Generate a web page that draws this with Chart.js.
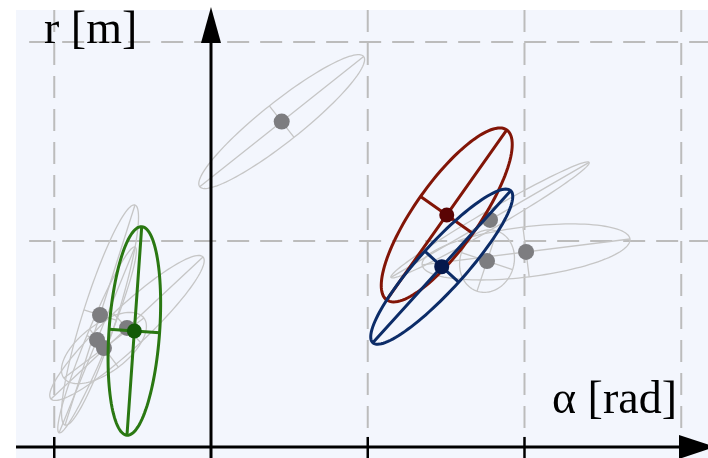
<!DOCTYPE html>
<html>
<head>
<meta charset="utf-8">
<script src="https://cdn.jsdelivr.net/npm/chart.js@4/dist/chart.umd.min.js"></script>
<style>
  html, body { margin: 0; padding: 0; background: #fff; }
  #wrap { width: 708px; height: 458px; }
</style>
</head>
<body>
<div id="wrap"><canvas id="ellipse-chart" width="708" height="458"></canvas></div>
<script>
// hypotheses (gray) - centre + semi axes as vectors, in [rad] / [m]
var grayCx    = [0.451, -0.536, -0.708, -0.727, -0.683, 1.780, 2.010, 1.761];
var grayCy    = [1.600,  0.563,  0.628,  0.503,  0.462, 1.106, 0.945, 0.899];
var grayMajDx = [0.523,  0.485,  0.223,  0.242,  0.255, 0.632, 0.663, 0.064];
var grayMajDy = [0.327,  0.357,  0.553,  0.467,  0.151, 0.289, 0.065, 0.151];
var grayMinDx = [0.079,  0.087,  0.103,  0.065,  0.092, 0.029, 0.020, 0.163];
var grayMinDy = [-0.079, -0.073, -0.026, -0.021, -0.096, -0.039, -0.125, -0.043];

// tracked estimates: green, red, blue
var trackNames = ['green', 'red', 'blue'];
var trackCx    = [-0.489, 1.504, 1.472];
var trackCy    = [0.548, 1.131, 0.871];
var trackMajDx = [0.047, 0.383, 0.440];
var trackMajDy = [0.524, 0.427, 0.382];
var trackMinDx = [0.161, 0.167, 0.108];
var trackMinDy = [-0.009, -0.093, -0.078];

// grid / ticks
var gridX = [-1, 1, 2, 3];
var gridY = [1, 2];
var tickX = [-1, 1, 2];

var lineColors = ['#2a7812', '#821507', '#0c2c68'];
var dotColors  = ['#145a08', '#5a0404', '#05184c'];

function ellipsePath(ctx, sx, sy, cx, cy, ax, ay, bx, by) {
  ctx.beginPath();
  for (var i = 0; i <= 120; i++) {
    var t = i / 120 * Math.PI * 2;
    var px = sx.getPixelForValue(cx + ax * Math.cos(t) + bx * Math.sin(t));
    var py = sy.getPixelForValue(cy + ay * Math.cos(t) + by * Math.sin(t));
    if (i === 0) ctx.moveTo(px, py); else ctx.lineTo(px, py);
  }
  ctx.closePath();
  ctx.stroke();
  // both axes
  ctx.beginPath();
  ctx.moveTo(sx.getPixelForValue(cx - ax), sy.getPixelForValue(cy - ay));
  ctx.lineTo(sx.getPixelForValue(cx + ax), sy.getPixelForValue(cy + ay));
  ctx.moveTo(sx.getPixelForValue(cx - bx), sy.getPixelForValue(cy - by));
  ctx.lineTo(sx.getPixelForValue(cx + bx), sy.getPixelForValue(cy + by));
  ctx.stroke();
}

var backdrop = {
  id: 'backdrop',
  beforeDatasetsDraw: function(chart) {
    var ctx = chart.ctx, sx = chart.scales.x, sy = chart.scales.y;
    ctx.save();
    // panel
    var left = sx.getPixelForValue(-1.244), top = sy.getPixelForValue(2.161);
    ctx.fillStyle = '#f3f6fd';
    ctx.fillRect(left, top, chart.width - left, chart.height - top);
    // dashed grid
    ctx.strokeStyle = '#bcbcbc';
    ctx.lineWidth = 2;
    ctx.setLineDash([22, 11]);
    gridX.forEach(function(v) {
      var x = sx.getPixelForValue(v);
      ctx.beginPath();
      ctx.moveTo(x, top);
      ctx.lineTo(x, sy.getPixelForValue(0.02));
      ctx.stroke();
    });
    gridY.forEach(function(v) {
      var y = sy.getPixelForValue(v);
      ctx.beginPath();
      ctx.moveTo(sx.getPixelForValue(-1.16), y);
      ctx.lineTo(chart.width, y);
      ctx.stroke();
    });
    ctx.setLineDash([]);
    // gray ellipses
    ctx.strokeStyle = '#c6c6c6';
    ctx.lineWidth = 1.3;
    for (var i = 0; i < grayCx.length; i++) {
      ellipsePath(ctx, sx, sy, grayCx[i], grayCy[i], grayMajDx[i], grayMajDy[i], grayMinDx[i], grayMinDy[i]);
    }
    ctx.restore();
  },
  afterDatasetDraw: function(chart, args) {
    if (args.index !== 1) return;
    var ctx = chart.ctx, sx = chart.scales.x, sy = chart.scales.y;
    ctx.save();
    ctx.lineWidth = 3;
    for (var i = 0; i < trackCx.length; i++) {
      ctx.strokeStyle = lineColors[i];
      ellipsePath(ctx, sx, sy, trackCx[i], trackCy[i], trackMajDx[i], trackMajDy[i], trackMinDx[i], trackMinDy[i]);
    }
    ctx.restore();
  },
  afterDraw: function(chart) {
    var ctx = chart.ctx, sx = chart.scales.x, sy = chart.scales.y;
    ctx.save();
    ctx.strokeStyle = '#000';
    ctx.fillStyle = '#000';
    ctx.lineWidth = 3;
    var x0 = sx.getPixelForValue(0), y0 = sy.getPixelForValue(-0.035);
    // y axis + arrow
    ctx.beginPath();
    ctx.moveTo(x0, chart.height);
    ctx.lineTo(x0, 40);
    ctx.stroke();
    ctx.beginPath();
    ctx.moveTo(x0, 7);
    ctx.lineTo(x0 - 10, 43);
    ctx.lineTo(x0 + 10, 43);
    ctx.closePath();
    ctx.fill();
    // x axis + arrow
    var xl = sx.getPixelForValue(-1.244);
    ctx.beginPath();
    ctx.moveTo(xl, y0);
    ctx.lineTo(682, y0);
    ctx.stroke();
    ctx.beginPath();
    ctx.moveTo(715, y0);
    ctx.lineTo(679, y0 - 12);
    ctx.lineTo(679, y0 + 12);
    ctx.closePath();
    ctx.fill();
    // ticks
    ctx.lineWidth = 2.5;
    tickX.forEach(function(v) {
      var x = sx.getPixelForValue(v);
      ctx.beginPath();
      ctx.moveTo(x, y0 - 10);
      ctx.lineTo(x, chart.height);
      ctx.stroke();
    });
    // labels
    ctx.font = '46px "Liberation Serif", "DejaVu Serif", serif';
    ctx.textBaseline = 'alphabetic';
    ctx.textAlign = 'left';
    ctx.fillText('r [m]', 44, 43);
    ctx.fillText('\u03b1 [rad]', 552, 413);
    ctx.restore();
  }
};

var trackPoints = trackCx.map(function(x, i) { return { x: x, y: trackCy[i] }; });
var grayPoints = grayCx.map(function(x, i) { return { x: x, y: grayCy[i] }; });

var ellipseChart = new Chart(document.getElementById('ellipse-chart'), {
  type: 'scatter',
  data: {
    datasets: [{
      label: 'tracks',
      data: trackPoints,
      pointRadius: 7.5,
      pointBackgroundColor: dotColors,
      pointBorderWidth: 0
    }, {
      label: 'hypotheses',
      data: grayPoints,
      pointRadius: 8,
      pointBackgroundColor: '#7d7d80',
      pointBorderWidth: 0
    }]
  },
  options: {
    responsive: false,
    animation: false,
    devicePixelRatio: 1,
    layout: { padding: 0, autoPadding: false },
    scales: {
      x: { type: 'linear', min: -1.3461, max: 3.1707, display: false },
      y: { type: 'linear', min: -0.0905, max: 2.2111, display: false }
    },
    plugins: {
      legend: { display: false },
      tooltip: { enabled: false }
    }
  },
  plugins: [backdrop]
});
</script>
</body>
</html>
